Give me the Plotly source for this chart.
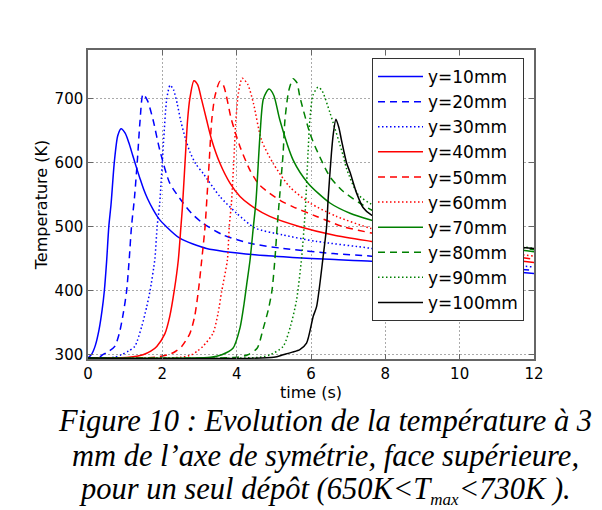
import plotly.graph_objects as go

# ---------------- data ----------------
labels = ["y=10mm", "y=20mm", "y=30mm", "y=40mm", "y=50mm",
          "y=60mm", "y=70mm", "y=80mm", "y=90mm", "y=100mm"]
colors = ["#0000ff", "#0000ff", "#0000ff", "#ff0000", "#ff0000",
          "#ff0000", "#008000", "#008000", "#008000", "#000000"]
dashes = ["solid", "7px,5px", "1.5px,2.5px"] * 3 + ["solid"]

t_10 = [0, 0.1, 0.2, 0.3, 0.38, 0.44, 0.5, 0.56, 0.62, 0.71, 0.8, 0.89, 1.0, 1.1, 1.2, 1.3, 1.4, 1.5, 1.6, 1.75, 1.9, 2.11, 2.47, 3.19, 4.49, 5.5, 6.5, 7.63, 9, 10.5, 12]
T_10 = [295, 301, 315, 340, 370, 400, 445, 500, 535, 602, 642, 653, 646, 631, 612, 593, 575, 558, 544, 527, 513, 500, 482, 466, 456, 452, 449, 446, 440, 434, 427]

t_20 = [0, 0.3, 0.4, 0.55, 0.72, 0.85, 0.95, 1.04, 1.11, 1.17, 1.25, 1.33, 1.4, 1.48, 1.6, 1.75, 1.93, 2.2, 2.56, 2.8, 3.1, 3.64, 4.36, 5.25, 6.6, 7.63, 9, 10.5, 12]
T_20 = [295, 296, 300, 305, 313, 335, 365, 400, 450, 500, 545, 605, 665, 707, 697, 667, 620, 568, 537, 520, 505, 487, 474, 466, 458, 454, 445, 438, 432]

t_30 = [0, 0.7, 0.9, 1.1, 1.26, 1.45, 1.58, 1.67, 1.8, 1.86, 1.93, 2.03, 2.12, 2.21, 2.3, 2.4, 2.5, 2.62, 2.74, 2.9, 3.1, 3.55, 4.0, 4.49, 5.25, 6.15, 7.63, 9, 10.5, 12]
T_30 = [295, 296, 300, 306, 313, 345, 375, 400, 450, 500, 537, 630, 700, 721, 714, 692, 664, 638, 617, 598, 583, 547, 521, 498, 487, 477, 466, 453, 444, 437]

t_40 = [0, 1.1, 1.48, 1.7, 1.85, 2.07, 2.2, 2.32, 2.43, 2.5, 2.54, 2.63, 2.68, 2.74, 2.85, 2.95, 3.05, 3.19, 3.33, 3.55, 3.82, 4.09, 4.36, 4.89, 5.7, 6.6, 7.63, 9, 10.5, 12]
T_40 = [295, 296, 300, 306, 313, 333, 360, 400, 448, 500, 530, 620, 667, 700, 728, 722, 700, 667, 635, 599, 568, 547, 534, 516, 500, 487, 477, 465, 454, 444]

t_50 = [0, 1.8, 2.16, 2.35, 2.52, 2.74, 2.87, 2.97, 3.06, 3.15, 3.2, 3.26, 3.33, 3.42, 3.55, 3.65, 3.86, 4.09, 4.36, 4.6, 4.89, 5.2, 5.52, 6.15, 6.87, 7.63, 9, 10.5, 12]
T_50 = [295, 296, 300, 305, 313, 333, 360, 400, 448, 500, 545, 600, 667, 705, 727, 720, 667, 625, 588, 566, 552, 540, 531, 516, 500, 490, 474, 461, 449]

t_60 = [0, 2.5, 2.79, 2.95, 3.09, 3.36, 3.5, 3.6, 3.75, 3.8, 3.86, 3.92, 3.98, 4.05, 4.15, 4.3, 4.45, 4.67, 4.98, 5.43, 5.97, 6.69, 7.63, 9, 10.5, 12]
T_60 = [295, 296, 300, 306, 313, 333, 365, 400, 448, 500, 537, 600, 667, 710, 732, 722, 693, 635, 599, 562, 537, 516, 497, 478, 465, 454]

t_70 = [0, 3.3, 3.6, 3.9, 4.09, 4.2, 4.27, 4.36, 4.45, 4.52, 4.63, 4.72, 4.87, 5.0, 5.16, 5.52, 5.92, 6.51, 7.05, 7.63, 9, 10.5, 12]
T_70 = [295, 296, 300, 310, 342, 380, 410, 448, 500, 540, 645, 700, 715, 705, 667, 604, 568, 537, 521, 510, 488, 473, 461]

t_80 = [0, 4.0, 4.3, 4.55, 4.71, 4.85, 4.95, 5.03, 5.09, 5.16, 5.25, 5.3, 5.4, 5.52, 5.62, 5.7, 5.97, 6.15, 6.51, 6.87, 7.31, 7.63, 9, 10.5, 12]
T_80 = [295, 296, 300, 310, 340, 370, 400, 450, 500, 550, 615, 667, 712, 731, 725, 703, 646, 620, 578, 555, 537, 526, 495, 477, 464]

t_90 = [0, 4.6, 4.9, 5.25, 5.45, 5.61, 5.75, 5.85, 5.92, 5.97, 6.05, 6.19, 6.3, 6.51, 6.87, 6.96, 7.27, 7.63, 9, 10.5, 12]
T_90 = [295, 296, 300, 313, 345, 385, 453, 530, 615, 667, 705, 718, 712, 678, 610, 590, 550, 535, 500, 480, 466]

t_100 = [0, 5.0, 5.25, 5.5, 5.7, 5.88, 6.06, 6.15, 6.33, 6.42, 6.46, 6.55, 6.6, 6.67, 6.75, 6.82, 6.96, 7.05, 7.23, 7.4, 7.63, 9, 10.5, 12]
T_100 = [295, 296, 300, 304, 308, 318, 360, 375, 455, 500, 542, 615, 645, 668, 655, 635, 599, 585, 552, 530, 518, 490, 475, 466]

times = [t_10, t_20, t_30, t_40, t_50, t_60, t_70, t_80, t_90, t_100]
temps = [T_10, T_20, T_30, T_40, T_50, T_60, T_70, T_80, T_90, T_100]

x_ticks = [0, 2, 4, 6, 8, 10, 12]
y_ticks = [300, 400, 500, 600, 700]
x_title = "time (s)"
y_title = "Temperature (K)"
caption_lines = [
    "<i>Figure 10 : Evolution de la température à 3</i>",
    "<i>mm de l’axe de symétrie, face supérieure,</i>",
    "<i>pour un seul dépôt (650K&lt;T<sub><span style=\"font-size:17px\">max</span></sub>&lt;730K ).</i>",
]

# ---------------- layout geometry (page pixels) ----------------
OFF = 8                      # page body margin offset of the figure div
W, H = 602 - OFF, 510 - OFF
L, R, T, B = 88, 534, 50, 359   # plot area in page pixels


def px_x(p):
    return (p - L) / (R - L)


def px_y(p):
    return (B - p) / (B - T)


fig = go.Figure()
for name, col, dsh, tt, vv in zip(labels, colors, dashes, times, temps):
    fig.add_trace(go.Scatter(
        x=tt, y=vv, mode="lines", name=name,
        line=dict(color=col, width=1.5, dash=dsh, shape="spline", smoothing=0.7),
    ))

axis_common = dict(
    showline=True, linecolor="#666666", linewidth=1.5, mirror="ticks",
    ticks="inside", ticklen=5, tickwidth=1, tickcolor="#666666",
    showgrid=True, gridcolor="#aaaaaa", gridwidth=1, griddash="1.5px,2.5px",
    zeroline=False, automargin=False,
    tickfont=dict(family="DejaVu Sans", size=15, color="black"),
)

fig.update_xaxes(range=[0, 12], tickvals=x_ticks, ticktext=[str(v) for v in x_ticks],
                 title=dict(text=x_title, font=dict(family="DejaVu Sans", size=16, color="black"), standoff=2),
                 **axis_common)
fig.update_yaxes(range=[293.3, 776], tickvals=y_ticks, ticktext=[str(v) for v in y_ticks],
                 title=dict(text=y_title, font=dict(family="DejaVu Sans", size=16, color="black"), standoff=3),
                 **axis_common)

annotations = []
caption_y = [421, 455.5, 490]
for txt, yy in zip(caption_lines, caption_y):
    annotations.append(dict(
        text=txt, xref="paper", yref="paper", x=px_x(325), y=px_y(yy),
        xanchor="center", yanchor="middle", showarrow=False,
        font=dict(family="Liberation Serif", size=30.5, color="black"),
    ))

fig.update_layout(
    width=W, height=H,
    margin=dict(l=L - OFF, r=W - (R - OFF), t=T - OFF, b=H - (B - OFF), pad=0),
    paper_bgcolor="white", plot_bgcolor="white",
    font=dict(family="DejaVu Sans", color="black"),
    showlegend=True,
    legend=dict(x=px_x(372), y=px_y(58), xanchor="left", yanchor="top",
                bgcolor="white", bordercolor="#333333", borderwidth=1,
                font=dict(family="DejaVu Sans", size=17, color="black"),
                tracegroupgap=0, itemwidth=45),
    annotations=annotations,
)

fig.write_html("out.html")
